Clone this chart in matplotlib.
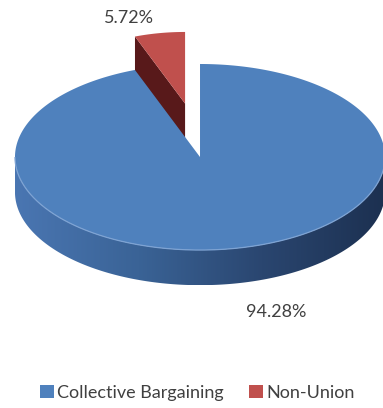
import numpy as np
import matplotlib
matplotlib.use("Agg")
import matplotlib.pyplot as plt
from matplotlib.patches import Polygon, Patch
from matplotlib.colors import LinearSegmentedColormap

# data
labels = ["Collective Bargaining", "Non-Union"]
shares = [94.28, 5.72]
pct_text = ["94.28%", "5.72%"]
top_colors = ["#4f81bd", "#c0504d"]
side_dark = ["#2a4468", "#58191a"]
explode = [0.0, 0.58]
slice_scale = [1.0, 0.77]   # exploded slice looks smaller (perspective)
explode_skew = -2.3         # small perspective bend of the explode direction, degrees

plt.rcParams["font.family"] = ["Lato", "DejaVu Sans"]

TILT = 0.503    # vertical squash of the pie disc
DEPTH = 0.19    # thickness of the pie


def proj(ang_deg, r=1.0, z=0.0, off=(0.0, 0.0)):
    a = np.radians(ang_deg)
    x = r * np.cos(a) + off[0]
    y = r * np.sin(a) * TILT + off[1] * TILT + z
    return x, y


fig = plt.figure(figsize=(3.83, 4.08), dpi=100)
ax = fig.add_axes([0, 0, 1, 1])
ax.axis("off")

# slice angles: start at 12 o'clock, clockwise (Excel style)
total = sum(shares)
cum = np.concatenate([[0], np.cumsum(shares)]) / total * 360
starts = 90 - cum[1:]   # lower angle
ends = 90 - cum[:-1]    # upper angle

side_cmap = LinearSegmentedColormap.from_list("side", ["#4a76b2", "#3a6396", "#2a4670", "#1c3050"])

# draw the exploded small slice first (it sits behind the big one)
for i in [1, 0]:
    lo, hi = starts[i], ends[i]
    r = slice_scale[i]
    mid = np.radians((lo + hi) / 2 + explode_skew)
    off = (explode[i] * np.cos(mid), explode[i] * np.sin(mid))
    cx, cy = proj(0, r=0, off=off)

    if i == 1:
        # visible radial face on the left edge of the small slice
        ox, oy = proj(hi, r=r, off=off)
        face = [(cx, cy), (ox, oy), (ox, oy - DEPTH), (cx, cy - DEPTH)]
        ax.add_patch(Polygon(face, closed=True, fc=side_dark[i], ec="none", zorder=1))
    else:
        # front curved side with left-to-right shading
        angs = np.linspace(180, 360, 300)
        tx, ty = proj(angs, r=r, off=off)
        side_pts = list(zip(tx, ty)) + list(zip(tx[::-1], ty[::-1] - DEPTH))
        side = Polygon(side_pts, closed=True, fc="none", ec="none", zorder=2)
        ax.add_patch(side)
        grad = np.linspace(0, 1, 256).reshape(1, -1)
        im = ax.imshow(grad, cmap=side_cmap, aspect="auto", zorder=2,
                       extent=[-1, 1, ty.min() - DEPTH, ty.max()], interpolation="bilinear")
        im.set_clip_path(side)
        # faint light rim along the front edge of the top face
        ax.plot(tx, ty, color="#7ea3d3", lw=0.9, zorder=3.5, solid_capstyle="butt")

    # top face
    arc = np.linspace(lo, hi, 400)
    xs, ys = proj(arc, r=r, off=off)
    pts = [(cx, cy)] + list(zip(xs, ys))
    ax.add_patch(Polygon(pts, closed=True, fc=top_colors[i], ec="none", zorder=3))

ax.set_xlim(-1.081, 0.989)
ax.set_ylim(-1.357, 0.849)

# value labels
ax.annotate(pct_text[1], xy=(129, 408 - 18), xycoords="figure pixels",
            ha="center", va="center", fontsize=13, color="#404040")
ax.annotate(pct_text[0], xy=(276, 408 - 312), xycoords="figure pixels",
            ha="center", va="center", fontsize=13, color="#404040")

handles = [Patch(fc=c, ec="none") for c in top_colors]
fig.legend(handles, labels, loc="center", bbox_to_anchor=(0.516, 0.037), ncol=2,
           frameon=False, fontsize=13, handlelength=0.75, handleheight=0.75,
           handletextpad=0.2, columnspacing=1.4, labelcolor="#404040")

fig.savefig("out.png", dpi=100, facecolor="white")
